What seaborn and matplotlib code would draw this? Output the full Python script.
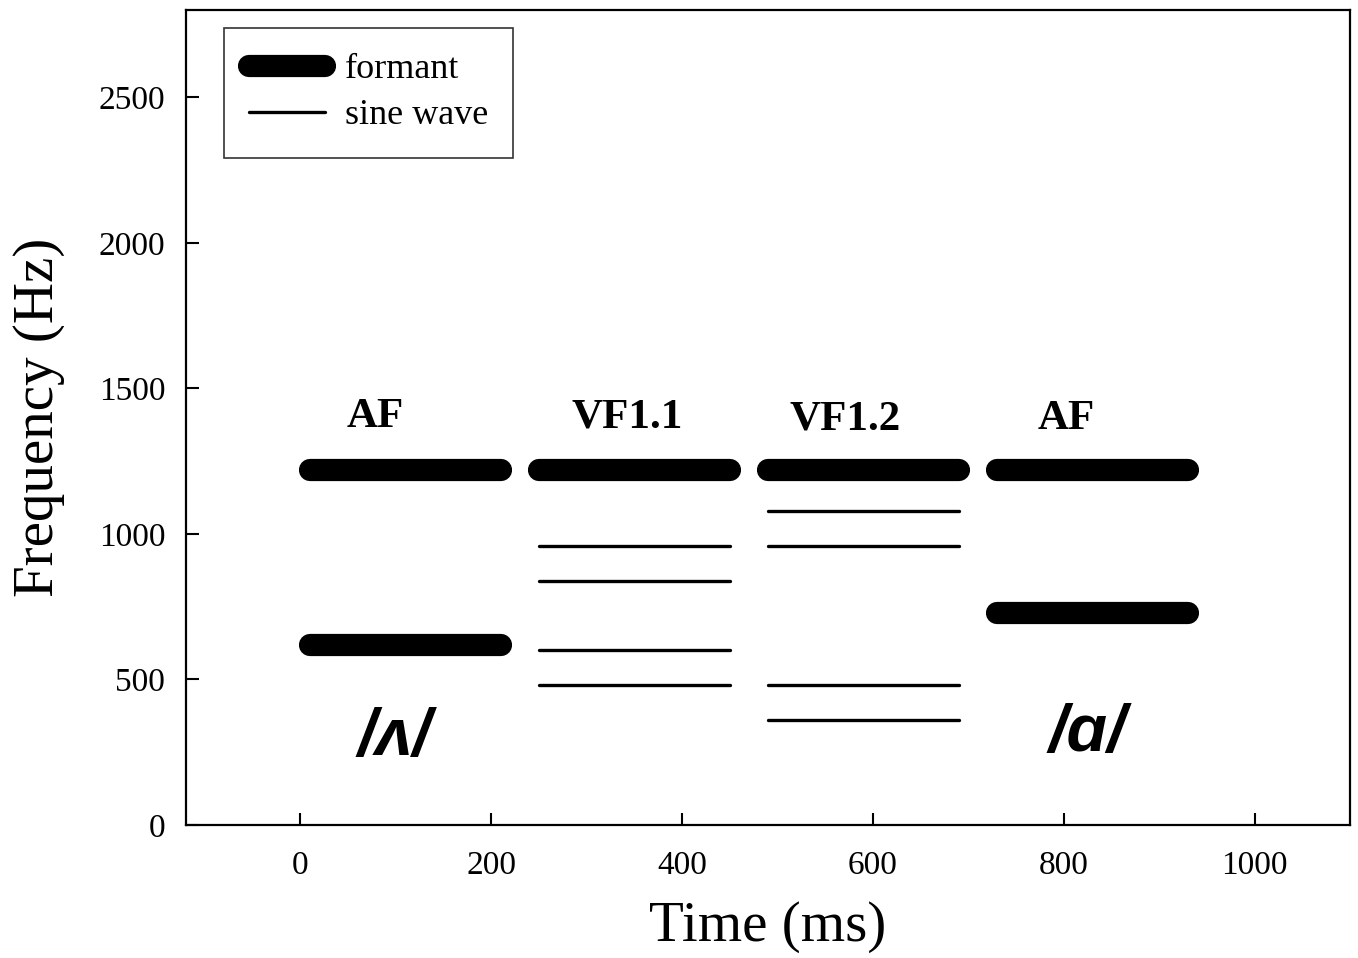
import numpy as np
import pandas as pd
import matplotlib
matplotlib.use('Agg')
import matplotlib.pyplot as plt
from matplotlib.lines import Line2D
import seaborn as sns

# ── Data ─────────────────────────────────────────────────────────────
# formant bars (thick): start, end (ms), frequency (Hz)
formant_start = [10, 10, 250, 490, 730, 730]
formant_end   = [210, 210, 450, 690, 930, 930]
formant_freq  = [1220, 620, 1220, 1220, 1220, 730]

# sine-wave replicas (thin)
sine_start = [250, 250, 250, 250, 490, 490, 490, 490]
sine_end   = [450, 450, 450, 450, 690, 690, 690, 690]
sine_freq  = [960, 840, 600, 480, 1080, 960, 480, 360]

cond_labels = ['AF', 'VF1.1', 'VF1.2', 'AF']
cond_x      = [78, 342, 571, 803]
cond_y      = [1367, 1367, 1360, 1360]

vowel_labels = ['/\u028c/', '/\u0251/']
vowel_x      = [99, 825]
vowel_y      = [240, 254]

x_ticks = [0, 200, 400, 600, 800, 1000]
y_ticks = [0, 500, 1000, 1500, 2000, 2500]


def segments(starts, ends, freqs):
    rows = []
    for i, (s, e, f) in enumerate(zip(starts, ends, freqs)):
        rows.append({'seg': i, 'time': s, 'freq': f})
        rows.append({'seg': i, 'time': e, 'freq': f})
    return pd.DataFrame(rows)


df_form = segments(formant_start, formant_end, formant_freq)
df_sine = segments(sine_start, sine_end, sine_freq)

# ── Plot ─────────────────────────────────────────────────────────────
sns.set_style('white')
plt.rcParams['font.family'] = ['Liberation Serif', 'DejaVu Serif']
plt.rcParams['text.color'] = 'black'
plt.rcParams['axes.labelcolor'] = 'black'
plt.rcParams['xtick.color'] = 'black'
plt.rcParams['ytick.color'] = 'black'

fig, ax = plt.subplots(figsize=(13.58, 9.58), dpi=100)
fig.subplots_adjust(left=186/1358, right=1350/1358,
                    bottom=1 - 825/958, top=1 - 10/958)

sns.lineplot(data=df_form, x='time', y='freq', units='seg', estimator=None,
             color='black', linewidth=16, solid_capstyle='round',
             sort=False, legend=False, ax=ax)
sns.lineplot(data=df_sine, x='time', y='freq', units='seg', estimator=None,
             color='black', linewidth=2.4, solid_capstyle='round',
             sort=False, legend=False, ax=ax)

for lab, x, y in zip(cond_labels, cond_x, cond_y):
    ax.text(x, y, lab, ha='center', va='baseline', fontsize=31,
            fontweight='bold', color='black')
for lab, x, y in zip(vowel_labels, vowel_x, vowel_y):
    ax.text(x, y, lab, ha='center', va='baseline', fontsize=48,
            fontweight='bold', fontstyle='italic', color='black',
            family=['Liberation Sans', 'DejaVu Sans'])

ax.set_xlim(-120, 1100)
ax.set_ylim(0, 2800)
ax.set_xticks(x_ticks)
ax.set_yticks(y_ticks)
ax.tick_params(direction='in', length=9, width=1.5, labelsize=24,
               colors='black', bottom=True, left=True)
ax.tick_params(axis='x', pad=18)
ax.tick_params(axis='y', pad=15)
for sp in ax.spines.values():
    sp.set_visible(True)
    sp.set_color('black')
    sp.set_linewidth(1.6)

ax.set_xlabel('Time (ms)', fontsize=41, labelpad=15)
ax.set_ylabel('Frequency (Hz)', fontsize=41, labelpad=24)

handles = [Line2D([], [], color='black', linewidth=16, solid_capstyle='round'),
           Line2D([], [], color='black', linewidth=2.4, solid_capstyle='round')]
leg = ax.legend(handles, ['formant', 'sine wave'], loc='upper left',
                bbox_to_anchor=(0.0326, 0.978), borderaxespad=0,
                fontsize=26, fancybox=False, frameon=True,
                handlelength=2.1, handletextpad=0.55, labelspacing=0.35,
                borderpad=0.7)
leg.get_frame().set_edgecolor('black')
leg.get_frame().set_linewidth(1.2)
for t in leg.get_texts():
    t.set_color('black')

plt.savefig('out.png', dpi=100)
